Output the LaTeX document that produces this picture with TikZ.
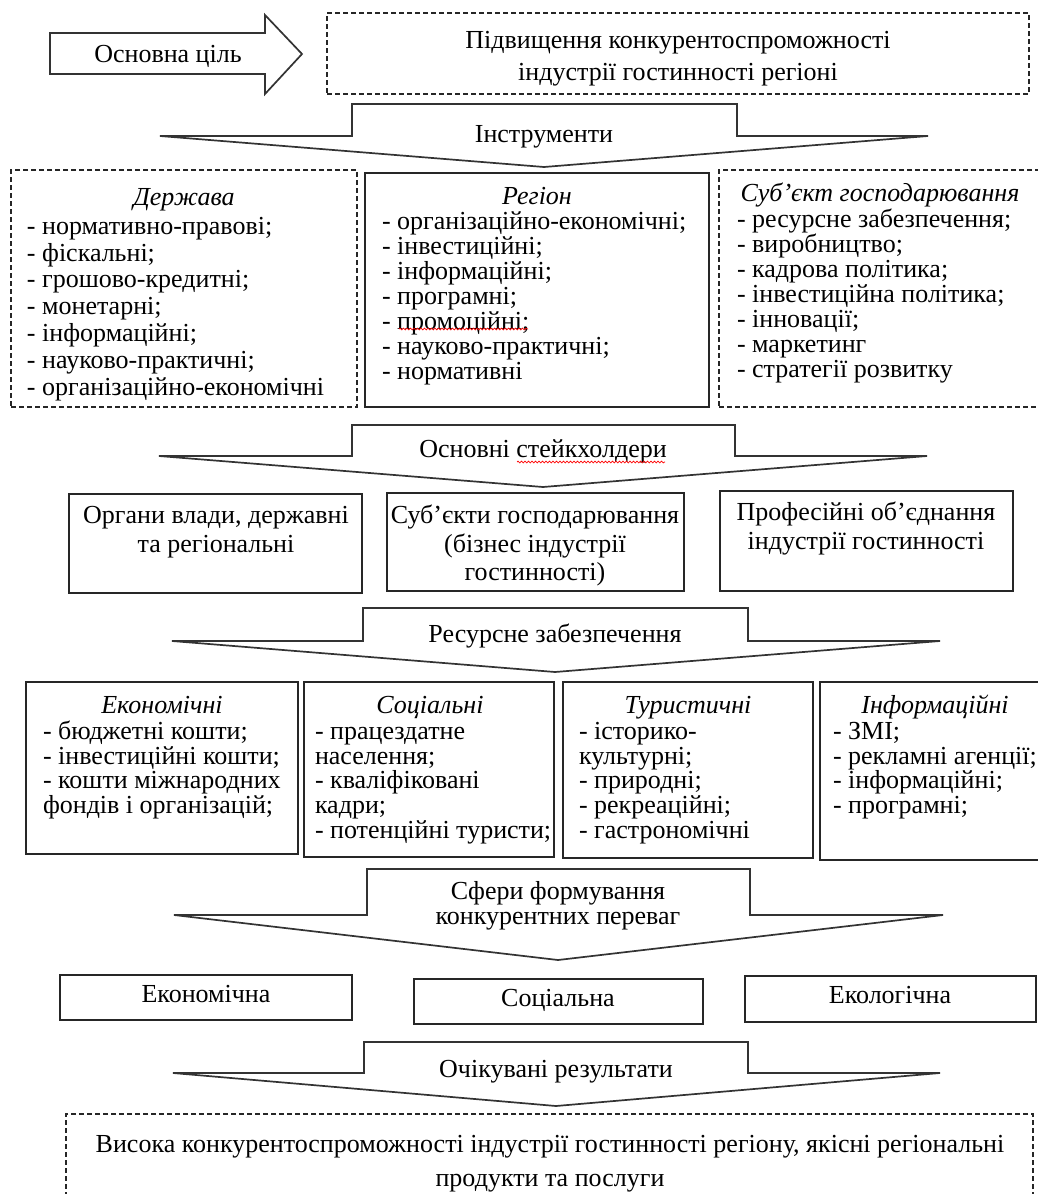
\documentclass[tikz,border=0pt]{standalone}
\usepackage{fontspec}
\setmainfont{Liberation Serif}
\usetikzlibrary{decorations.pathmorphing}
\newcommand\fs{\fontsize{26}{30}\selectfont}
\tikzset{
  every node/.style={font=\fs, inner sep=0pt, outer sep=0pt},
  solidbox/.style={draw=black!85, line width=1.5pt, anchor=north west},
  dashbox/.style={draw=black!85, line width=1.3pt, dash pattern=on 5pt off 3pt, anchor=north west},
  bigarrow/.style={draw=black!80, line width=1.7pt, fill=white, line join=miter},
  spell/.style={red, line width=0.7pt, decorate, decoration={snake, amplitude=0.9pt, segment length=3.5pt}},
  item/.style={anchor=mid west, yshift=-6pt},
  ttl/.style={anchor=mid, yshift=-6pt, font=\fs\itshape},
  ctr/.style={anchor=mid, yshift=-6pt}
}
\begin{document}
\begin{tikzpicture}[x=1pt,y=-1pt]
\fill[white] (0,0) rectangle (1038,1194);
\useasboundingbox (0,0) rectangle (1038,1194);

% ---- top: main goal ----
\draw[bigarrow] (50,33) -- (265,33) -- (265,15) -- (302,54) -- (265,94) -- (265,74) -- (50,74) -- cycle;
\node[ctr] (goallbl) at (168,54) {Основна ціль};
\node[dashbox, minimum width=702pt, minimum height=81pt] (goal) at (327,13) {};
\node[ctr] (goal1) at (678,40) {Підвищення конкурентоспроможності};
\node[ctr] (goal2) at (678,72) {індустрії гостинності регіоні};

% ---- arrow: instruments ----
\draw[bigarrow] (160,136) -- (352,136) -- (352,104) -- (737,104) -- (737,136) -- (928,136) -- (544,167) -- cycle;
\node[ctr] (a1) at (544,134) {Інструменти};

% ---- row 2 ----
\node[dashbox, minimum width=346pt, minimum height=237pt] (gov) at (11,170) {};
\node[ttl] (govt) at (184,197) {Держава};
\foreach \t [count=\i] in {- нормативно-правові;, - фіскальні;, - грошово-кредитні;, - монетарні;, - інформаційні;, - науково-практичні;, - організаційно-економічні}{
  \pgfmathsetmacro\yy{226+26.8*(\i-1)}
  \node[item] (gov\i) at (27,\yy) {\t};
}
\node[solidbox, minimum width=344pt, minimum height=234pt] (reg) at (365,173) {};
\node[ttl] (regt) at (537,196) {Регіон};
\foreach \t [count=\i] in {- організаційно-економічні;, - інвестиційні;, - інформаційні;, - програмні;, - промоційні;, - науково-практичні;, - нормативні}{
  \pgfmathsetmacro\yy{221+25*(\i-1)}
  \node[item] (reg\i) at (382,\yy) {\t};
}
\draw[spell] (399,329) -- (528,329);
\node[dashbox, minimum width=330pt, minimum height=237pt] (sub) at (719,170) {};
\node[ttl] (subt) at (880,193) {Суб’єкт господарювання};
\foreach \t [count=\i] in {- ресурсне забезпечення;, - виробництво;, - кадрова політика;, - інвестиційна політика;, - інновації;, - маркетинг, - стратегії розвитку}{
  \pgfmathsetmacro\yy{219+25*(\i-1)}
  \node[item] (sub\i) at (737,\yy) {\t};
}

% ---- arrow: stakeholders ----
\draw[bigarrow] (159,456) -- (352,456) -- (352,425) -- (735,425) -- (735,456) -- (927,456) -- (543,487) -- cycle;
\node[ctr] (a2) at (543,449) {Основні стейкхолдери};
\draw[spell] (517,462) -- (665,462);

% ---- row 3: stakeholders ----
\node[solidbox, minimum width=293pt, minimum height=99pt] (st1) at (69,494) {};
\node[ctr] (st1a) at (216,515) {Органи влади, державні};
\node[ctr] (st1b) at (216,544) {та регіональні};
\node[solidbox, minimum width=297pt, minimum height=98pt] (st2) at (387,493) {};
\node[ctr] (st2a) at (535,515) {Суб’єкти господарювання};
\node[ctr] (st2b) at (535,544) {(бізнес індустрії};
\node[ctr] (st2c) at (535,572) {гостинності)};
\node[solidbox, minimum width=293pt, minimum height=100pt] (st3) at (720,491) {};
\node[ctr] (st3a) at (866,512) {Професійні об’єднання};
\node[ctr] (st3b) at (866,541) {індустрії гостинності};

% ---- arrow: resources ----
\draw[bigarrow] (172,641) -- (363,641) -- (363,608) -- (748,608) -- (748,641) -- (940,641) -- (555,672) -- cycle;
\node[ctr] (a3) at (555,634) {Ресурсне забезпечення};

% ---- row 4: resources ----
\node[solidbox, minimum width=272pt, minimum height=172pt] (r1) at (26,682) {};
\node[ttl] (r1t) at (162,705) {Економічні};
\foreach \t [count=\i] in {- бюджетні кошти;, - інвестиційні кошти;, - кошти міжнародних, фондів і організацій;}{
  \pgfmathsetmacro\yy{731+24.7*(\i-1)}
  \node[item] (r1\i) at (43,\yy) {\t};
}
\node[solidbox, minimum width=250pt, minimum height=175pt] (r2) at (304,682) {};
\node[ttl] (r2t) at (430,705) {Соціальні};
\foreach \t [count=\i] in {- працездатне, населення;, - кваліфіковані, кадри;, - потенційні туристи;}{
  \pgfmathsetmacro\yy{731+24.7*(\i-1)}
  \node[item] (r2\i) at (315,\yy) {\t};
}
\node[solidbox, minimum width=250pt, minimum height=176pt] (r3) at (563,682) {};
\node[ttl] (r3t) at (688,705) {Туристичні};
\foreach \t [count=\i] in {- історико-, культурні;, - природні;, - рекреаційні;, - гастрономічні}{
  \pgfmathsetmacro\yy{731+24.7*(\i-1)}
  \node[item] (r3\i) at (579,\yy) {\t};
}
\node[solidbox, minimum width=230pt, minimum height=178pt] (r4) at (820,682) {};
\node[ttl] (r4t) at (935,705) {Інформаційні};
\foreach \t [count=\i] in {- ЗМІ;, - рекламні агенції;, - інформаційні;, - програмні;}{
  \pgfmathsetmacro\yy{731+24.7*(\i-1)}
  \node[item] (r4\i) at (833,\yy) {\t};
}

% ---- arrow: spheres ----
\draw[bigarrow] (174,915) -- (367,915) -- (367,869) -- (750,869) -- (750,915) -- (943,915) -- (558,960) -- cycle;
\node[ctr] (a4a) at (558,891) {Сфери формування};
\node[ctr] (a4b) at (558,916) {конкурентних переваг};

% ---- row 5: spheres ----
\node[solidbox, minimum width=292pt, minimum height=45pt] (sp1) at (60,975) {};
\node[ctr] (sp1t) at (206,994) {Економічна};
\node[solidbox, minimum width=289pt, minimum height=45pt] (sp2) at (414,979) {};
\node[ctr] (sp2t) at (558,998) {Соціальна};
\node[solidbox, minimum width=291pt, minimum height=46pt] (sp3) at (745,976) {};
\node[ctr] (sp3t) at (890,995) {Екологічна};

% ---- arrow: results ----
\draw[bigarrow] (173,1073) -- (364,1073) -- (364,1042) -- (748,1042) -- (748,1073) -- (940,1073) -- (556,1106) -- cycle;
\node[ctr] (a5) at (556,1069) {Очікувані результати};

% ---- bottom result ----
\node[dashbox, minimum width=967pt, minimum height=100pt] (res) at (66,1114) {};
\node[ctr] (res1) at (550,1144) {Висока конкурентоспроможності індустрії гостинності регіону, якісні регіональні};
\node[ctr] (res2) at (550,1178) {продукти та послуги};
\end{tikzpicture}
\end{document}
